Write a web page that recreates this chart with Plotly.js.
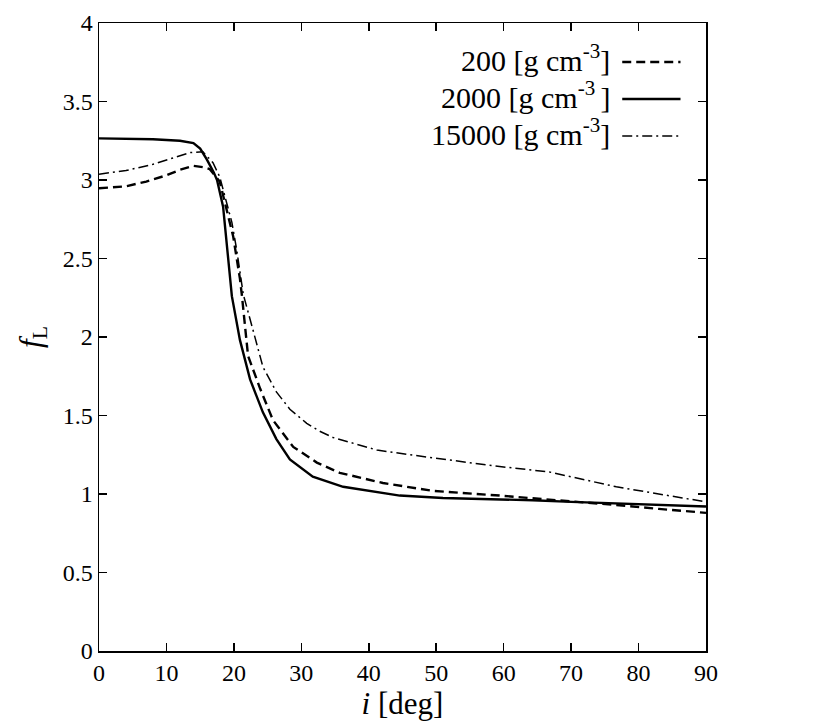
<!DOCTYPE html>
<html>
<head>
<meta charset="utf-8">
<script src="https://cdn.plot.ly/plotly-3.0.1.min.js"></script>
<style>html,body{margin:0;padding:0;background:#fff;}#chart{width:830px;height:726px;}</style>
</head>
<body>
<div id="chart"></div>
<script>
// Series: 2000 g cm^-3 (solid)
const x2000 = [0, 4, 8, 12, 14, 15, 16, 17, 17.5, 18.4, 19.1, 19.7, 20.9, 22.4, 24.3, 26.3, 28.3, 31.7, 36.2, 40, 44.6, 51, 58, 64.3, 70, 74.2, 80, 85, 90];
const y2000 = [3.265, 3.263, 3.26, 3.25, 3.235, 3.2, 3.13, 3.05, 3.0, 2.83, 2.51, 2.26, 1.98, 1.73, 1.52, 1.35, 1.22, 1.11, 1.046, 1.02, 0.99, 0.975, 0.969, 0.96, 0.95, 0.944, 0.935, 0.928, 0.92];
// Series: 200 g cm^-3 (dashed)
const x200 = [0, 4, 7, 10, 12, 14, 15.7, 16.4, 17.9, 19.1, 19.9, 20.9, 21.2, 22.1, 23.9, 25.8, 28.8, 32.3, 35.7, 42.1, 49.5, 59.4, 69.3, 76.7, 83, 90];
const y200 = [2.947, 2.96, 2.99, 3.03, 3.065, 3.09, 3.08, 3.07, 2.99, 2.79, 2.64, 2.37, 2.26, 1.88, 1.67, 1.47, 1.30, 1.20, 1.135, 1.07, 1.02, 0.99, 0.957, 0.93, 0.905, 0.88];
// Series: 15000 g cm^-3 (dash-dot)
const x15000 = [0, 4, 8, 11, 13.5, 15.4, 16.9, 17.9, 18.7, 19.7, 20.4, 21.4, 22.8, 24.3, 26.3, 28.3, 30.8, 32.7, 34.7, 41.2, 49.5, 59.4, 66.8, 76.7, 86.5, 90];
const y15000 = [3.037, 3.06, 3.10, 3.14, 3.175, 3.18, 3.11, 3.02, 2.89, 2.73, 2.56, 2.27, 2.05, 1.81, 1.65, 1.54, 1.45, 1.40, 1.36, 1.28, 1.23, 1.175, 1.14, 1.046, 0.975, 0.95];

const legendLabels = ['200 [g cm<sup>-3</sup>]', '2000 [g cm<sup>-3 </sup>]', '15000 [g cm<sup>-3</sup>]'];
const xTickVals = [0, 10, 20, 30, 40, 50, 60, 70, 80, 90];
const xTickText = ['0', '10', '20', '30', '40', '50', '60', '70', '80', '90'];
const yTickVals = [0, 0.5, 1, 1.5, 2, 2.5, 3, 3.5, 4];
const yTickText = ['0', '0.5', '1', '1.5', '2', '2.5', '3', '3.5', '4'];

const FONT = 'Liberation Serif, Times New Roman, serif';
const styles = [
  {dash: '9px,5px', width: 2.4},
  {dash: 'solid', width: 2.4},
  {dash: '10px,4px,2px,4px', width: 1.5}
];

const traces = [
  {x: x200, y: y200, mode: 'lines', line: {color: '#000', dash: styles[0].dash, width: styles[0].width}, showlegend: false, hoverinfo: 'skip'},
  {x: x2000, y: y2000, mode: 'lines', line: {color: '#000', dash: styles[1].dash, width: styles[1].width}, showlegend: false, hoverinfo: 'skip'},
  {x: x15000, y: y15000, mode: 'lines', line: {color: '#000', dash: styles[2].dash, width: styles[2].width}, showlegend: false, hoverinfo: 'skip'}
];

// manual legend: text on the left, line sample on the right
const legY = [0.938, 0.879, 0.820];
const annotations = legendLabels.map((t, i) => ({
  xref: 'paper', yref: 'paper', x: 0.845, y: legY[i] + 0.006, xanchor: 'right', yanchor: 'middle',
  text: t, showarrow: false, font: {family: FONT, size: 30, color: '#000'}
}));
const shapes = legendLabels.map((t, i) => ({
  type: 'line', xref: 'paper', yref: 'paper', x0: 0.862, x1: 0.958, y0: legY[i], y1: legY[i],
  line: {color: '#000', dash: styles[i].dash, width: styles[i].width}
}));

const axisCommon = {
  showgrid: false, zeroline: false, showline: true, linecolor: '#000', linewidth: 1.5,
  mirror: 'ticks', ticks: 'inside', ticklen: 8, tickwidth: 1.5, tickcolor: '#000',
  tickfont: {family: FONT, size: 24, color: '#000'}
};

const layout = {
  width: 830, height: 726,
  margin: {l: 99, r: 124, t: 23, b: 75},
  paper_bgcolor: '#fff', plot_bgcolor: '#fff',
  font: {family: FONT, color: '#000'},
  xaxis: Object.assign({}, axisCommon, {
    range: [0, 90], tickmode: 'array', tickvals: xTickVals, ticktext: xTickText,
    title: {text: '<i>i</i> [deg]', font: {family: FONT, size: 31, color: '#000'}, standoff: 6}
  }),
  yaxis: Object.assign({}, axisCommon, {
    range: [0, 4], tickmode: 'array', tickvals: yTickVals, ticktext: yTickText,
    title: {text: '<i>f</i><sub>L</sub>', font: {family: FONT, size: 31, color: '#000'}, standoff: 12}
  }),
  annotations: annotations,
  shapes: shapes
};

Plotly.newPlot('chart', traces, layout, {staticPlot: true, displayModeBar: false});
</script>
</body>
</html>
